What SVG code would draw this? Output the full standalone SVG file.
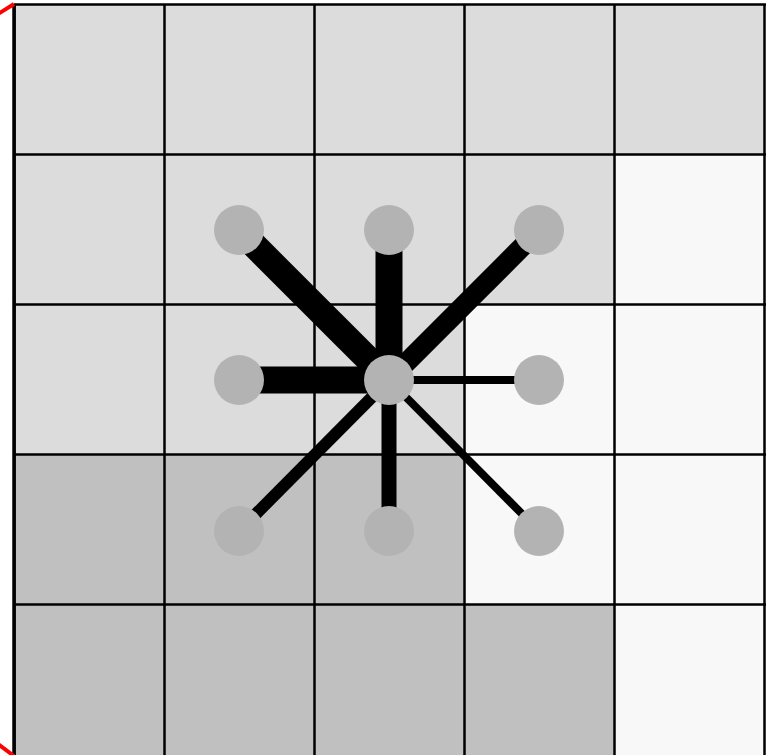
<svg xmlns="http://www.w3.org/2000/svg" width="766" height="755" viewBox="0 0 766 755">
<style>
.a{fill:#dcdcdc}.b{fill:#f8f8f8}.c{fill:#c0c0c0}
.g{stroke:#000;stroke-width:2.5;fill:none}
.n{fill:#b3b3b3}
.e{stroke:#000;fill:none}
</style>
<rect width="766" height="755" fill="#fff"/>
<g id="cells">
<rect class="a" x="14" y="4" width="150" height="150"/><rect class="a" x="164" y="4" width="150" height="150"/><rect class="a" x="314" y="4" width="150" height="150"/><rect class="a" x="464" y="4" width="150" height="150"/><rect class="a" x="614" y="4" width="151" height="150"/>
<rect class="a" x="14" y="154" width="150" height="150"/><rect class="a" x="164" y="154" width="150" height="150"/><rect class="a" x="314" y="154" width="150" height="150"/><rect class="a" x="464" y="154" width="150" height="150"/><rect class="b" x="614" y="154" width="151" height="150"/>
<rect class="a" x="14" y="304" width="150" height="150"/><rect class="a" x="164" y="304" width="150" height="150"/><rect class="a" x="314" y="304" width="150" height="150"/><rect class="b" x="464" y="304" width="150" height="150"/><rect class="b" x="614" y="304" width="151" height="150"/>
<rect class="c" x="14" y="454" width="150" height="150"/><rect class="c" x="164" y="454" width="150" height="150"/><rect class="c" x="314" y="454" width="150" height="150"/><rect class="b" x="464" y="454" width="150" height="150"/><rect class="b" x="614" y="454" width="151" height="150"/>
<rect class="c" x="14" y="604" width="150" height="151"/><rect class="c" x="164" y="604" width="150" height="151"/><rect class="c" x="314" y="604" width="150" height="151"/><rect class="c" x="464" y="604" width="150" height="151"/><rect class="b" x="614" y="604" width="151" height="151"/>
</g>
<g id="grid" class="g">
<path d="M14.5 4V755M164.5 4V755M314.5 4V755M464.5 4V755M614.5 4V755M764.5 4V755"/>
<path d="M14 4.5H766M14 154.5H766M14 304.5H766M14 454.5H766M14 604.5H766"/>
<path d="M14 4V755" stroke-width="3.5"/>
</g>
<g id="red" stroke="#f00" stroke-width="4" fill="none">
<path d="M-2 14L14 4"/>
<path d="M-2 744L14 756"/>
</g>
<g id="connectors">
<line class="e" x1="389" y1="380" x2="239" y2="230" stroke-width="26"/>
<line class="e" x1="389" y1="380" x2="389" y2="230" stroke-width="27"/>
<line class="e" x1="389" y1="380" x2="539" y2="230" stroke-width="20"/>
<line class="e" x1="389" y1="380" x2="239" y2="380" stroke-width="27"/>
<line class="e" x1="389" y1="380" x2="539" y2="380" stroke-width="8"/>
<line class="e" x1="389" y1="380" x2="239" y2="531" stroke-width="12"/>
<line class="e" x1="389" y1="380" x2="389" y2="531" stroke-width="15"/>
<line class="e" x1="389" y1="380" x2="539" y2="531" stroke-width="8"/>
</g>
<g id="n00"><circle class="n" cx="239" cy="230" r="25"/></g>
<g id="n01"><circle class="n" cx="389" cy="230" r="25"/></g>
<g id="n02"><circle class="n" cx="539" cy="230" r="25"/></g>
<g id="n10"><circle class="n" cx="239" cy="380" r="25"/></g>
<g id="n11"><circle class="n" cx="389" cy="380" r="25"/></g>
<g id="n12"><circle class="n" cx="539" cy="380" r="25"/></g>
<g id="n20"><circle class="n" cx="239" cy="531" r="25"/></g>
<g id="n21"><circle class="n" cx="389" cy="531" r="25"/></g>
<g id="n22"><circle class="n" cx="539" cy="531" r="25"/></g>
</svg>
